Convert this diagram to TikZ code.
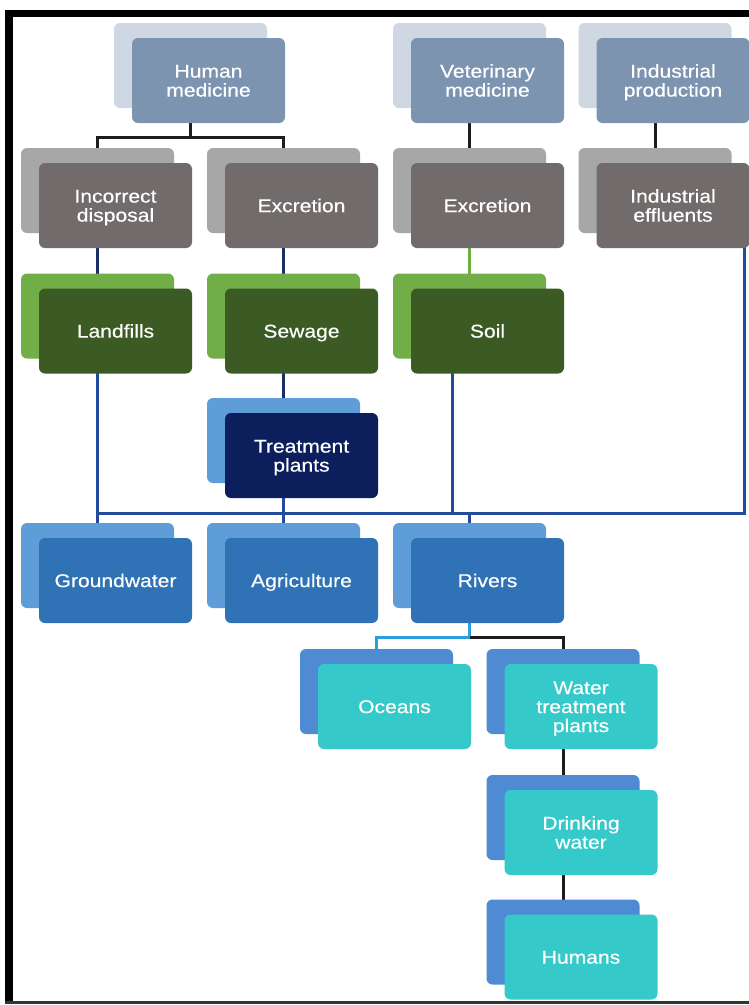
\documentclass[tikz,border=0pt]{standalone}
\usepackage{fontspec}
\setmainfont{Liberation Sans}[FakeStretch=1.14,FakeBold=0.4]
\pgfdeclarelayer{bg}
\pgfsetlayers{bg,main}
\definecolor{topF}{HTML}{7D94B1}
\definecolor{topB}{HTML}{CFD8E2}
\definecolor{grF}{HTML}{726B6B}
\definecolor{grB}{HTML}{A7A7A7}
\definecolor{gnF}{HTML}{3C5A24}
\definecolor{gnB}{HTML}{71AE48}
\definecolor{nvF}{HTML}{0C1F5C}
\definecolor{bluB}{HTML}{5E9DD8}
\definecolor{bluF}{HTML}{2F72B6}
\definecolor{tlF}{HTML}{35C9C9}
\definecolor{tlB}{HTML}{4F8BD2}
\definecolor{lnBlue}{HTML}{244A9C}
\definecolor{lnNavy}{HTML}{1B2F66}
\definecolor{lnLight}{HTML}{2A9FE0}
\definecolor{lnGreen}{HTML}{6CB13E}
\definecolor{lnBlack}{HTML}{1C1C1C}
\tikzset{
  box/.style={rectangle, rounded corners=6pt, minimum width=153pt, minimum height=85pt,
    inner sep=0pt},
  backbox/.style={box, xshift=-18pt, yshift=15pt},
  txt/.style={inner sep=0pt, text width=150pt, align=center, text=white,
    font=\fontsize{18.5}{19}\selectfont},
  conn/.style={line width=3pt},
}
\newcommand\twobox[5]{%
  \node[backbox, fill=#3] (#1B) at (#2) {};
  \node[box, fill=#4] (#1) at (#2) {};
  \node[txt] (#1T) at ([yshift=-1.8pt]#1.center) {\vphantom{Agl}#5\vphantom{Agl}};}
\begin{document}
\begin{tikzpicture}[x=1pt,y=-1pt]
\useasboundingbox (0,0) rectangle (749,1005);
% boxes
\twobox{hm}{208.5,80.5}{topB}{topF}{Human\\medicine}
\twobox{vm}{487.5,80.5}{topB}{topF}{Veterinary\\medicine}
\twobox{ip}{673,80.5}{topB}{topF}{Industrial\\production}
\twobox{id}{115.5,205.5}{grB}{grF}{Incorrect\\disposal}
\twobox{exa}{301.5,205.5}{grB}{grF}{Excretion}
\twobox{exb}{487.5,205.5}{grB}{grF}{Excretion}
\twobox{ie}{673,205.5}{grB}{grF}{Industrial\\effluents}
\twobox{lf}{115.5,331}{gnB}{gnF}{Landfills}
\twobox{sw}{301.5,331}{gnB}{gnF}{Sewage}
\twobox{so}{487.5,331}{gnB}{gnF}{Soil}
\twobox{tp}{301.5,455.5}{bluB}{nvF}{Treatment\\plants}
\twobox{gw}{115.5,580.5}{bluB}{bluF}{Groundwater}
\twobox{ag}{301.5,580.5}{bluB}{bluF}{Agriculture}
\twobox{rv}{487.5,580.5}{bluB}{bluF}{Rivers}
\twobox{oc}{394.5,706.5}{tlB}{tlF}{Oceans}
\twobox{wt}{581,706.5}{tlB}{tlF}{Water\\treatment\\plants}
\twobox{dw}{581,832.5}{tlB}{tlF}{Drinking\\water}
\twobox{hu}{581,957}{tlB}{tlF}{Humans}
\coordinate (j1) at (0,137);
\coordinate (j2) at (0,513);
\coordinate (j3) at (0,637);
\coordinate (soD) at ([xshift=-17pt]soB.center);
\coordinate (ieD) at ([xshift=-5pt]ie.east);
% connectors
\begin{pgfonlayer}{bg}
\fill[white] (0,0) rectangle (749,1005);
\draw[conn,lnBlack] (hmB.center) -- (hmB.center |- j1) -| (idB.center);
\draw[conn,lnBlack] (hmB.center |- j1) -| (exaB.center);
\draw[conn,lnBlack] (vmB.center) -- (exbB.center);
\draw[conn,lnBlack] (ipB.center) -- (ieB.center);
\draw[conn,lnNavy] (idB.center) -- (lfB.center);
\draw[conn,lnNavy] (exaB.center) -- (swB.center);
\draw[conn,lnGreen] (exbB.center) -- (soB.center);
\draw[conn,lnNavy] (swB.center) -- (tpB.center);
\draw[conn,lnBlue] (lfB.center) -- (gwB.center);
\draw[conn,lnBlue] (tpB.center) -- (agB.center);
\draw[conn,lnBlue] (soD) -- (soD |- j2);
\draw[conn,lnBlue] (ieD) -- (ieD |- j2) -- (lfB.center |- j2);
\draw[conn,lnBlue] (rvB.center |- j2) -- (rvB.center);
\draw[conn,lnLight] (rvB.center) -- (rvB.center |- j3) -| (ocB.center);
\draw[conn,lnBlack] (rvB.center |- j3) -| (wtB.center);
\draw[conn,lnBlack] (wtB.center) -- (dwB.center);
\draw[conn,lnBlack] (dwB.center) -- (huB.center);
\end{pgfonlayer}
% frame
\fill[black] (5,10) rectangle (13,1004);
\fill[black] (5,10) rectangle (749,17);
\fill[black!80] (5,1001) rectangle (749,1004);
\end{tikzpicture}
\end{document}
